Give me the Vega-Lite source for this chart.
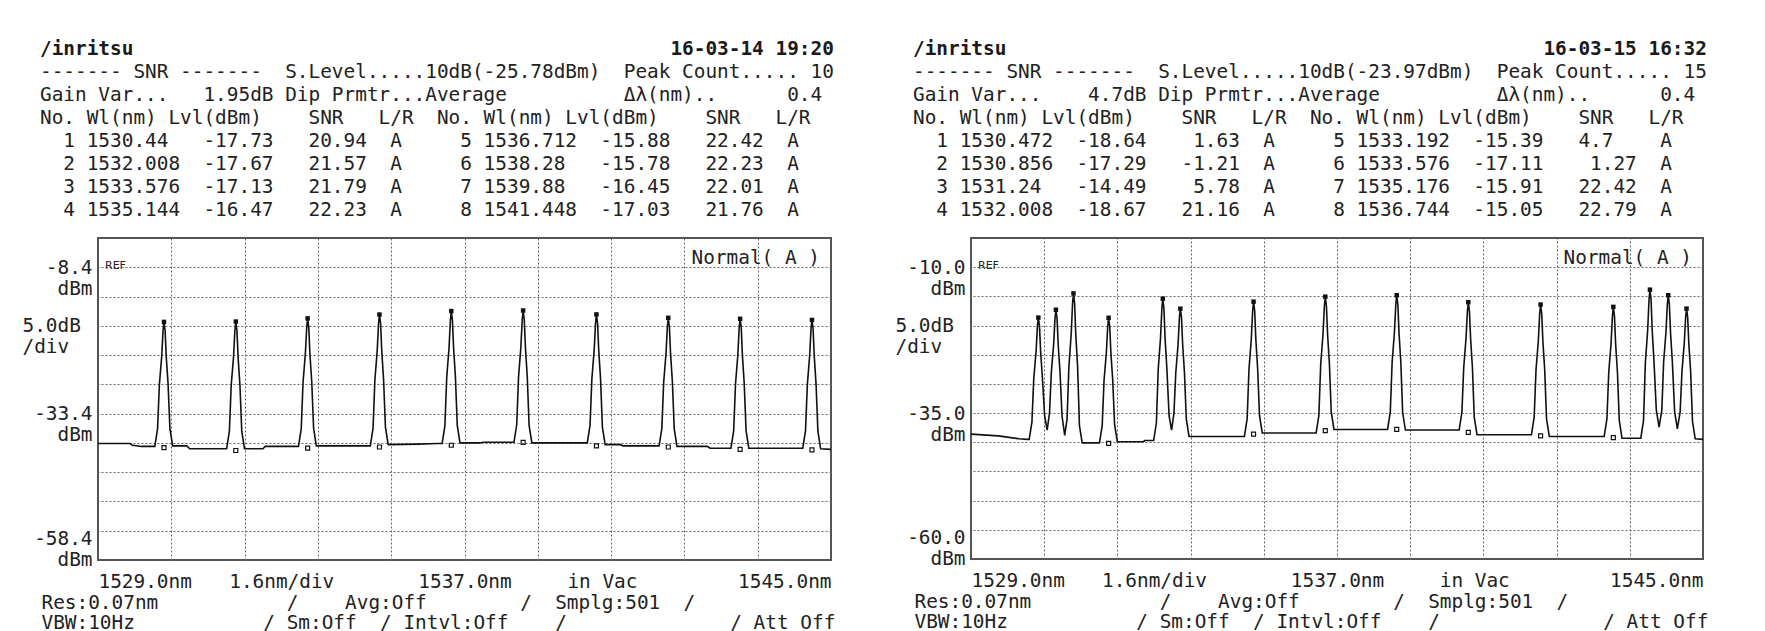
{
  "$schema": "https://vega.github.io/schema/vega-lite/v6.json",
  "background": "white",
  "padding": {"left": 20, "top": 37, "right": 5, "bottom": 0},
  "autosize": {"type": "pad"},
  "bounds": "flush",
  "spacing": 140,
  "config": {
    "view": {"stroke": "#555555", "strokeWidth": 2},
    "axis": {
      "domain": false, "ticks": false,
      "labelFont": "DejaVu Sans Mono", "labelFontSize": 19.4, "labelColor": "#222222",
      "titleFont": "DejaVu Sans Mono", "titleFontSize": 19.4, "titleFontWeight": "normal", "titleColor": "#222222",
      "gridColor": "#666666", "gridDash": [2, 2], "gridWidth": 1, "gridOpacity": 1
    },
    "title": {
      "anchor": "start", "frame": "group", "dx": -58, "offset": 18,
      "font": "DejaVu Sans Mono", "fontSize": 19.4, "fontWeight": "bold", "color": "#1a1a1a",
      "subtitleFont": "DejaVu Sans Mono", "subtitleFontSize": 19.4, "subtitleColor": "#222222",
      "subtitleLineHeight": 23, "subtitlePadding": 3.6
    }
  },
  "datasets": {
    "trace1": [
      {"wl":1529.0,"dbm":-38.5},{"wl":1529.7,"dbm":-38.5},{"wl":1529.75,"dbm":-38.8},{"wl":1529.95,"dbm":-39.0},
      {"wl":1530.24,"dbm":-39.0},{"wl":1530.30,"dbm":-36.0},{"wl":1530.34,"dbm":-28.4},{"wl":1530.39,"dbm":-23.7},{"wl":1530.42,"dbm":-19.2},{"wl":1530.44,"dbm":-17.73},{"wl":1530.465,"dbm":-19.2},{"wl":1530.49,"dbm":-23.7},{"wl":1530.53,"dbm":-28.4},{"wl":1530.57,"dbm":-36.0},{"wl":1530.63,"dbm":-38.9},
      {"wl":1530.94,"dbm":-38.9},{"wl":1531.0,"dbm":-39.4},
      {"wl":1531.808,"dbm":-39.4},{"wl":1531.868,"dbm":-36.4},{"wl":1531.908,"dbm":-28.5},{"wl":1531.958,"dbm":-23.8},{"wl":1531.988,"dbm":-19.2},{"wl":1532.008,"dbm":-17.67},{"wl":1532.033,"dbm":-19.2},{"wl":1532.058,"dbm":-23.8},{"wl":1532.098,"dbm":-28.5},{"wl":1532.138,"dbm":-36.4},{"wl":1532.198,"dbm":-39.4},
      {"wl":1532.6,"dbm":-39.4},{"wl":1532.65,"dbm":-39.0},
      {"wl":1533.376,"dbm":-39.0},{"wl":1533.436,"dbm":-36.0},{"wl":1533.476,"dbm":-28.0},{"wl":1533.526,"dbm":-23.2},{"wl":1533.556,"dbm":-18.7},{"wl":1533.576,"dbm":-17.13},{"wl":1533.601,"dbm":-18.7},{"wl":1533.626,"dbm":-23.2},{"wl":1533.666,"dbm":-28.0},{"wl":1533.706,"dbm":-35.9},{"wl":1533.766,"dbm":-38.9},
      {"wl":1534.9,"dbm":-38.9},
      {"wl":1534.944,"dbm":-38.9},{"wl":1535.004,"dbm":-35.9},{"wl":1535.044,"dbm":-27.6},{"wl":1535.094,"dbm":-22.7},{"wl":1535.124,"dbm":-18.0},{"wl":1535.144,"dbm":-16.47},{"wl":1535.169,"dbm":-18.0},{"wl":1535.194,"dbm":-22.7},{"wl":1535.234,"dbm":-27.6},{"wl":1535.274,"dbm":-35.7},{"wl":1535.334,"dbm":-38.7},
      {"wl":1536.0,"dbm":-38.6},{"wl":1536.4,"dbm":-38.5},
      {"wl":1536.512,"dbm":-38.5},{"wl":1536.572,"dbm":-35.5},{"wl":1536.612,"dbm":-27.2},{"wl":1536.662,"dbm":-22.2},{"wl":1536.692,"dbm":-17.5},{"wl":1536.712,"dbm":-15.88},{"wl":1536.737,"dbm":-17.5},{"wl":1536.762,"dbm":-22.2},{"wl":1536.802,"dbm":-27.2},{"wl":1536.842,"dbm":-35.4},{"wl":1536.902,"dbm":-38.4},
      {"wl":1537.34,"dbm":-38.4},{"wl":1537.4,"dbm":-38.3},{"wl":1538.0,"dbm":-38.3},
      {"wl":1538.08,"dbm":-38.3},{"wl":1538.14,"dbm":-35.3},{"wl":1538.18,"dbm":-27.1},{"wl":1538.23,"dbm":-22.1},{"wl":1538.26,"dbm":-17.4},{"wl":1538.28,"dbm":-15.78},{"wl":1538.305,"dbm":-17.4},{"wl":1538.33,"dbm":-22.1},{"wl":1538.37,"dbm":-27.1},{"wl":1538.41,"dbm":-35.4},{"wl":1538.47,"dbm":-38.4},
      {"wl":1539.6,"dbm":-38.4},
      {"wl":1539.68,"dbm":-38.4},{"wl":1539.74,"dbm":-35.4},{"wl":1539.78,"dbm":-27.5},{"wl":1539.83,"dbm":-22.6},{"wl":1539.86,"dbm":-18.0},{"wl":1539.88,"dbm":-16.45},{"wl":1539.905,"dbm":-18.0},{"wl":1539.93,"dbm":-22.6},{"wl":1539.97,"dbm":-27.5},{"wl":1540.01,"dbm":-35.7},{"wl":1540.07,"dbm":-38.7},
      {"wl":1540.4,"dbm":-38.7},{"wl":1540.46,"dbm":-38.9},{"wl":1541.2,"dbm":-38.9},
      {"wl":1541.248,"dbm":-38.9},{"wl":1541.308,"dbm":-35.9},{"wl":1541.348,"dbm":-28.0},{"wl":1541.398,"dbm":-23.2},{"wl":1541.428,"dbm":-18.6},{"wl":1541.448,"dbm":-17.03},{"wl":1541.473,"dbm":-18.6},{"wl":1541.498,"dbm":-23.2},{"wl":1541.538,"dbm":-28.0},{"wl":1541.578,"dbm":-36.0},{"wl":1541.638,"dbm":-39.0},
      {"wl":1542.3,"dbm":-39.0},{"wl":1542.36,"dbm":-39.3},
      {"wl":1542.816,"dbm":-39.3},{"wl":1542.876,"dbm":-36.3},{"wl":1542.916,"dbm":-28.3},{"wl":1542.966,"dbm":-23.4},{"wl":1542.996,"dbm":-18.7},{"wl":1543.016,"dbm":-17.2},{"wl":1543.041,"dbm":-18.7},{"wl":1543.066,"dbm":-23.4},{"wl":1543.106,"dbm":-28.3},{"wl":1543.146,"dbm":-36.3},{"wl":1543.206,"dbm":-39.3},
      {"wl":1544.3,"dbm":-39.3},
      {"wl":1544.384,"dbm":-39.3},{"wl":1544.444,"dbm":-36.3},{"wl":1544.484,"dbm":-28.4},{"wl":1544.534,"dbm":-23.5},{"wl":1544.564,"dbm":-18.9},{"wl":1544.584,"dbm":-17.4},{"wl":1544.609,"dbm":-18.9},{"wl":1544.634,"dbm":-23.5},{"wl":1544.674,"dbm":-28.4},{"wl":1544.714,"dbm":-36.4},{"wl":1544.774,"dbm":-39.4},
      {"wl":1545.0,"dbm":-39.5}
    ],
    "peaks1": [
      {"wl":1530.44,"dbm":-17.73},{"wl":1532.008,"dbm":-17.67},{"wl":1533.576,"dbm":-17.13},{"wl":1535.144,"dbm":-16.47},{"wl":1536.712,"dbm":-15.88},
      {"wl":1538.28,"dbm":-15.78},{"wl":1539.88,"dbm":-16.45},{"wl":1541.448,"dbm":-17.03},{"wl":1543.016,"dbm":-17.2},{"wl":1544.584,"dbm":-17.4}
    ],
    "noise1": [
      {"wl":1530.44,"dbm":-39.2},{"wl":1532.008,"dbm":-39.7},{"wl":1533.576,"dbm":-39.3},{"wl":1535.144,"dbm":-39.1},{"wl":1536.712,"dbm":-38.8},
      {"wl":1538.28,"dbm":-38.3},{"wl":1539.88,"dbm":-38.9},{"wl":1541.448,"dbm":-39.1},{"wl":1543.016,"dbm":-39.5},{"wl":1544.584,"dbm":-39.6}
    ],
    "trace2": [
      {"wl":1529.0,"dbm":-38.6},{"wl":1529.6,"dbm":-38.9},{"wl":1530.05,"dbm":-39.4},{"wl":1530.22,"dbm":-39.5},
      {"wl":1530.272,"dbm":-39.5},{"wl":1530.332,"dbm":-36.5},{"wl":1530.372,"dbm":-29.1},{"wl":1530.422,"dbm":-24.5},{"wl":1530.452,"dbm":-20.1},{"wl":1530.472,"dbm":-18.64},{"wl":1530.497,"dbm":-20.1},{"wl":1530.522,"dbm":-24.5},{"wl":1530.562,"dbm":-29.1},{"wl":1530.61,"dbm":-35.5},{"wl":1530.664,"dbm":-37.9},
      {"wl":1530.716,"dbm":-35.0},{"wl":1530.756,"dbm":-28.0},{"wl":1530.806,"dbm":-23.3},{"wl":1530.836,"dbm":-18.8},{"wl":1530.856,"dbm":-17.29},{"wl":1530.881,"dbm":-18.8},{"wl":1530.906,"dbm":-23.3},{"wl":1530.946,"dbm":-28.0},{"wl":1530.99,"dbm":-35.5},{"wl":1531.048,"dbm":-38.8},
      {"wl":1531.10,"dbm":-36.0},{"wl":1531.14,"dbm":-27.0},{"wl":1531.19,"dbm":-21.5},{"wl":1531.22,"dbm":-16.2},{"wl":1531.24,"dbm":-14.49},{"wl":1531.265,"dbm":-16.2},{"wl":1531.29,"dbm":-21.5},{"wl":1531.33,"dbm":-27.0},{"wl":1531.37,"dbm":-37.1},{"wl":1531.43,"dbm":-40.1},
      {"wl":1531.808,"dbm":-40.1},
      {"wl":1531.868,"dbm":-37.1},{"wl":1531.908,"dbm":-29.4},{"wl":1531.958,"dbm":-24.7},{"wl":1531.988,"dbm":-20.2},{"wl":1532.008,"dbm":-18.67},{"wl":1532.033,"dbm":-20.2},{"wl":1532.058,"dbm":-24.7},{"wl":1532.098,"dbm":-29.4},{"wl":1532.138,"dbm":-36.9},{"wl":1532.198,"dbm":-39.9},
      {"wl":1532.77,"dbm":-39.9},{"wl":1532.8,"dbm":-39.7},
      {"wl":1532.992,"dbm":-39.7},{"wl":1533.052,"dbm":-36.7},{"wl":1533.092,"dbm":-27.5},{"wl":1533.142,"dbm":-22.2},{"wl":1533.172,"dbm":-17.1},{"wl":1533.192,"dbm":-15.39},{"wl":1533.217,"dbm":-17.1},{"wl":1533.242,"dbm":-22.2},{"wl":1533.282,"dbm":-27.5},{"wl":1533.33,"dbm":-35.5},{"wl":1533.384,"dbm":-37.9},
      {"wl":1533.436,"dbm":-35.0},{"wl":1533.476,"dbm":-28.1},{"wl":1533.526,"dbm":-23.2},{"wl":1533.556,"dbm":-18.6},{"wl":1533.576,"dbm":-17.11},{"wl":1533.601,"dbm":-18.6},{"wl":1533.626,"dbm":-23.2},{"wl":1533.666,"dbm":-28.1},{"wl":1533.706,"dbm":-36.0},{"wl":1533.766,"dbm":-39.0},
      {"wl":1534.976,"dbm":-39.0},
      {"wl":1535.036,"dbm":-36.0},{"wl":1535.076,"dbm":-27.5},{"wl":1535.126,"dbm":-22.4},{"wl":1535.156,"dbm":-17.5},{"wl":1535.176,"dbm":-15.91},{"wl":1535.201,"dbm":-17.5},{"wl":1535.226,"dbm":-22.4},{"wl":1535.266,"dbm":-27.5},{"wl":1535.306,"dbm":-35.4},{"wl":1535.366,"dbm":-38.4},
      {"wl":1536.544,"dbm":-38.4},
      {"wl":1536.604,"dbm":-35.4},{"wl":1536.644,"dbm":-26.6},{"wl":1536.694,"dbm":-21.5},{"wl":1536.724,"dbm":-16.7},{"wl":1536.744,"dbm":-15.05},{"wl":1536.769,"dbm":-16.7},{"wl":1536.794,"dbm":-21.5},{"wl":1536.834,"dbm":-26.6},{"wl":1536.874,"dbm":-34.8},{"wl":1536.934,"dbm":-37.8},
      {"wl":1538.105,"dbm":-37.8},
      {"wl":1538.165,"dbm":-34.8},{"wl":1538.205,"dbm":-26.3},{"wl":1538.255,"dbm":-21.2},{"wl":1538.285,"dbm":-16.4},{"wl":1538.305,"dbm":-14.8},{"wl":1538.33,"dbm":-16.4},{"wl":1538.355,"dbm":-21.2},{"wl":1538.395,"dbm":-26.3},{"wl":1538.435,"dbm":-34.9},{"wl":1538.495,"dbm":-37.9},
      {"wl":1539.67,"dbm":-37.9},
      {"wl":1539.73,"dbm":-34.9},{"wl":1539.77,"dbm":-27.2},{"wl":1539.82,"dbm":-22.2},{"wl":1539.85,"dbm":-17.6},{"wl":1539.87,"dbm":-16.0},{"wl":1539.895,"dbm":-17.6},{"wl":1539.92,"dbm":-22.2},{"wl":1539.96,"dbm":-27.2},{"wl":1540.0,"dbm":-35.7},{"wl":1540.06,"dbm":-38.7},
      {"wl":1541.25,"dbm":-38.7},
      {"wl":1541.31,"dbm":-35.7},{"wl":1541.35,"dbm":-27.6},{"wl":1541.40,"dbm":-22.7},{"wl":1541.43,"dbm":-18.0},{"wl":1541.45,"dbm":-16.4},{"wl":1541.475,"dbm":-18.0},{"wl":1541.50,"dbm":-22.7},{"wl":1541.54,"dbm":-27.6},{"wl":1541.58,"dbm":-36.0},{"wl":1541.64,"dbm":-39.0},
      {"wl":1542.84,"dbm":-39.0},
      {"wl":1542.90,"dbm":-36.0},{"wl":1542.94,"dbm":-28.0},{"wl":1542.99,"dbm":-23.1},{"wl":1543.02,"dbm":-18.4},{"wl":1543.04,"dbm":-16.8},{"wl":1543.065,"dbm":-18.4},{"wl":1543.09,"dbm":-23.1},{"wl":1543.13,"dbm":-28.0},{"wl":1543.17,"dbm":-36.3},{"wl":1543.23,"dbm":-39.3},
      {"wl":1543.64,"dbm":-39.3},
      {"wl":1543.70,"dbm":-36.3},{"wl":1543.74,"dbm":-26.4},{"wl":1543.79,"dbm":-20.9},{"wl":1543.82,"dbm":-15.6},{"wl":1543.84,"dbm":-13.85},{"wl":1543.865,"dbm":-15.6},{"wl":1543.89,"dbm":-20.9},{"wl":1543.93,"dbm":-26.4},{"wl":1543.98,"dbm":-34.5},{"wl":1544.04,"dbm":-37.4},
      {"wl":1544.10,"dbm":-34.5},{"wl":1544.14,"dbm":-26.2},{"wl":1544.19,"dbm":-21.2},{"wl":1544.22,"dbm":-16.4},{"wl":1544.24,"dbm":-14.8},{"wl":1544.265,"dbm":-16.4},{"wl":1544.29,"dbm":-21.2},{"wl":1544.33,"dbm":-26.2},{"wl":1544.38,"dbm":-34.8},{"wl":1544.44,"dbm":-37.7},
      {"wl":1544.50,"dbm":-34.8},{"wl":1544.54,"dbm":-27.9},{"wl":1544.59,"dbm":-23.1},{"wl":1544.62,"dbm":-18.6},{"wl":1544.64,"dbm":-17.1},{"wl":1544.665,"dbm":-18.6},{"wl":1544.69,"dbm":-23.1},{"wl":1544.73,"dbm":-27.9},{"wl":1544.77,"dbm":-36.4},{"wl":1544.83,"dbm":-39.4},
      {"wl":1545.0,"dbm":-39.5}
    ],
    "peaks2": [
      {"wl":1530.472,"dbm":-18.64},{"wl":1530.856,"dbm":-17.29},{"wl":1531.24,"dbm":-14.49},{"wl":1532.008,"dbm":-18.67},{"wl":1533.192,"dbm":-15.39},
      {"wl":1533.576,"dbm":-17.11},{"wl":1535.176,"dbm":-15.91},{"wl":1536.744,"dbm":-15.05},{"wl":1538.305,"dbm":-14.8},{"wl":1539.87,"dbm":-16.0},
      {"wl":1541.45,"dbm":-16.4},{"wl":1543.04,"dbm":-16.8},{"wl":1543.84,"dbm":-13.85},{"wl":1544.24,"dbm":-14.8},{"wl":1544.64,"dbm":-17.1}
    ],
    "noise2": [
      {"wl":1532.008,"dbm":-40.2},{"wl":1535.176,"dbm":-38.6},{"wl":1536.744,"dbm":-38.0},{"wl":1538.305,"dbm":-37.8},
      {"wl":1539.87,"dbm":-38.3},{"wl":1541.45,"dbm":-38.9},{"wl":1543.04,"dbm":-39.2}
    ]
  },
  "hconcat": [
    {
      "width": 733,
      "height": 322,
      "title": {
        "text": "/inritsu\u00a0\u00a0\u00a0\u00a0\u00a0\u00a0\u00a0\u00a0\u00a0\u00a0\u00a0\u00a0\u00a0\u00a0\u00a0\u00a0\u00a0\u00a0\u00a0\u00a0\u00a0\u00a0\u00a0\u00a0\u00a0\u00a0\u00a0\u00a0\u00a0\u00a0\u00a0\u00a0\u00a0\u00a0\u00a0\u00a0\u00a0\u00a0\u00a0\u00a0\u00a0\u00a0\u00a0\u00a0\u00a0\u00a016-03-14\u00a019:20",
        "subtitle": [
          "-------\u00a0SNR\u00a0-------\u00a0\u00a0S.Level.....10dB(-25.78dBm)\u00a0\u00a0Peak\u00a0Count.....\u00a010",
          "Gain\u00a0Var...\u00a0\u00a0\u00a01.95dB\u00a0Dip\u00a0Prmtr...Average\u00a0\u00a0\u00a0\u00a0\u00a0\u00a0\u00a0\u00a0\u00a0\u00a0\u0394\u03bb(nm)..\u00a0\u00a0\u00a0\u00a0\u00a0\u00a00.4",
          "No.\u00a0Wl(nm)\u00a0Lvl(dBm)\u00a0\u00a0\u00a0\u00a0SNR\u00a0\u00a0\u00a0L/R\u00a0\u00a0No.\u00a0Wl(nm)\u00a0Lvl(dBm)\u00a0\u00a0\u00a0\u00a0SNR\u00a0\u00a0\u00a0L/R",
          "\u200b\u00a0\u00a01\u00a01530.44\u00a0\u00a0\u00a0-17.73\u00a0\u00a0\u00a020.94\u00a0\u00a0A\u00a0\u00a0\u00a0\u00a0\u00a05\u00a01536.712\u00a0\u00a0-15.88\u00a0\u00a0\u00a022.42\u00a0\u00a0A",
          "\u200b\u00a0\u00a02\u00a01532.008\u00a0\u00a0-17.67\u00a0\u00a0\u00a021.57\u00a0\u00a0A\u00a0\u00a0\u00a0\u00a0\u00a06\u00a01538.28\u00a0\u00a0\u00a0-15.78\u00a0\u00a0\u00a022.23\u00a0\u00a0A",
          "\u200b\u00a0\u00a03\u00a01533.576\u00a0\u00a0-17.13\u00a0\u00a0\u00a021.79\u00a0\u00a0A\u00a0\u00a0\u00a0\u00a0\u00a07\u00a01539.88\u00a0\u00a0\u00a0-16.45\u00a0\u00a0\u00a022.01\u00a0\u00a0A",
          "\u200b\u00a0\u00a04\u00a01535.144\u00a0\u00a0-16.47\u00a0\u00a0\u00a022.23\u00a0\u00a0A\u00a0\u00a0\u00a0\u00a0\u00a08\u00a01541.448\u00a0\u00a0-17.03\u00a0\u00a0\u00a021.76\u00a0\u00a0A"
        ]
      },
      "resolve": {"axis": {"x": "independent", "y": "independent"}},
      "layer": [
        {
          "data": {"name": "trace1"},
          "mark": {"type": "line", "color": "#111111", "strokeWidth": 1.6},
          "encoding": {
            "x": {"field": "wl", "type": "quantitative", "scale": {"domain": [1529, 1545], "nice": false, "zero": false},
                  "axis": {"orient": "top", "grid": true, "labels": false, "title": null, "values": [1530.6, 1532.2, 1533.8, 1535.4, 1537, 1538.6, 1540.2, 1541.8, 1543.4]}},
            "y": {"field": "dbm", "type": "quantitative", "scale": {"domain": [-58.4, -3.4], "nice": false, "zero": false},
                  "axis": {"orient": "right", "grid": true, "labels": false, "title": null, "values": [-8.4, -13.4, -18.4, -23.4, -28.4, -33.4, -38.4, -43.4, -48.4, -53.4]}}
          }
        },
        {
          "data": {"name": "peaks1"},
          "mark": {"type": "square", "size": 20, "color": "#111111", "filled": true, "opacity": 1},
          "encoding": {
            "x": {"field": "wl", "type": "quantitative", "scale": {"domain": [1529, 1545], "nice": false, "zero": false},
                  "axis": {"orient": "bottom", "grid": false, "values": [1529, 1533, 1537, 1540, 1545],
                           "labelExpr": "datum.value < 1530 ? '1529.0nm' : datum.value < 1535 ? '1.6nm/div' : datum.value < 1538 ? '1537.0nm' : datum.value < 1542 ? 'in Vac' : '1545.0nm'",
                           "labelFlush": true, "labelOverlap": false, "labelBaseline": "top", "labelPadding": 12,
                           "title": ["Res:0.07nm\u00a0\u00a0\u00a0\u00a0\u00a0\u00a0\u00a0\u00a0\u00a0\u00a0\u00a0/\u00a0\u00a0\u00a0\u00a0Avg:Off\u00a0\u00a0\u00a0\u00a0\u00a0\u00a0\u00a0\u00a0/\u00a0\u00a0Smplg:501\u00a0\u00a0/",
                                     "VBW:10Hz\u00a0\u00a0\u00a0\u00a0\u00a0\u00a0\u00a0\u00a0\u00a0\u00a0\u00a0/\u00a0Sm:Off\u00a0\u00a0/\u00a0Intvl:Off\u00a0\u00a0\u00a0\u00a0/\u00a0\u00a0\u00a0\u00a0\u00a0\u00a0\u00a0\u00a0\u00a0\u00a0\u00a0\u00a0\u00a0\u00a0/\u00a0Att\u00a0Off"],
                           "titleX": -57, "titleY": 33, "titleAlign": "left", "titleBaseline": "top", "titleLineHeight": 20}},
            "y": {"field": "dbm", "type": "quantitative", "scale": {"domain": [-58.4, -3.4], "nice": false, "zero": false},
                  "axis": {"orient": "left", "grid": false, "title": null, "values": [-8.4, -18.4, -33.4, -58.4],
                           "labelExpr": "datum.value > -10 ? ['-8.4', 'dBm'] : datum.value > -20 ? ['5.0dB\u00a0\u200b', '/div\u00a0\u00a0\u200b'] : datum.value > -40 ? ['-33.4', 'dBm'] : ['-58.4', 'dBm']",
                           "labelAlign": "right", "labelBaseline": "middle", "labelPadding": 6, "labelLineHeight": 21, "labelOverlap": false,
                           "labelOffset": {"condition": {"test": "datum.value < -50", "value": -22}, "value": 0}}}
          }
        },
        {
          "data": {"name": "noise1"},
          "mark": {"type": "square", "size": 16, "filled": false, "color": "#111111", "strokeWidth": 1.2, "opacity": 1},
          "encoding": {
            "x": {"field": "wl", "type": "quantitative", "scale": {"domain": [1529, 1545], "nice": false, "zero": false}, "axis": null},
            "y": {"field": "dbm", "type": "quantitative", "scale": {"domain": [-58.4, -3.4], "nice": false, "zero": false}, "axis": null}
          }
        },
        {
          "data": {"values": [{"label": "REF"}]},
          "mark": {"type": "text", "align": "left", "baseline": "middle", "dx": 7, "dy": -1, "font": "DejaVu Sans", "fontSize": 11, "color": "#222222"},
          "encoding": {
            "x": {"datum": 1529, "type": "quantitative", "scale": {"domain": [1529, 1545], "nice": false, "zero": false}, "axis": null},
            "y": {"datum": -8.4, "type": "quantitative", "scale": {"domain": [-58.4, -3.4], "nice": false, "zero": false}, "axis": null},
            "text": {"field": "label"}
          }
        },
        {
          "data": {"values": [{"label": "Normal( A )"}]},
          "mark": {"type": "text", "align": "right", "baseline": "top", "dx": -11, "dy": 11, "font": "DejaVu Sans Mono", "fontSize": 19.4, "color": "#222222"},
          "encoding": {
            "x": {"datum": 1545, "type": "quantitative", "scale": {"domain": [1529, 1545], "nice": false, "zero": false}, "axis": null},
            "y": {"datum": -3.4, "type": "quantitative", "scale": {"domain": [-58.4, -3.4], "nice": false, "zero": false}, "axis": null},
            "text": {"field": "label"}
          }
        }
      ]
    },
    {
      "width": 732,
      "height": 321,
      "title": {
        "text": "/inritsu\u00a0\u00a0\u00a0\u00a0\u00a0\u00a0\u00a0\u00a0\u00a0\u00a0\u00a0\u00a0\u00a0\u00a0\u00a0\u00a0\u00a0\u00a0\u00a0\u00a0\u00a0\u00a0\u00a0\u00a0\u00a0\u00a0\u00a0\u00a0\u00a0\u00a0\u00a0\u00a0\u00a0\u00a0\u00a0\u00a0\u00a0\u00a0\u00a0\u00a0\u00a0\u00a0\u00a0\u00a0\u00a0\u00a016-03-15\u00a016:32",
        "subtitle": [
          "-------\u00a0SNR\u00a0-------\u00a0\u00a0S.Level.....10dB(-23.97dBm)\u00a0\u00a0Peak\u00a0Count.....\u00a015",
          "Gain\u00a0Var...\u00a0\u00a0\u00a0\u00a04.7dB\u00a0Dip\u00a0Prmtr...Average\u00a0\u00a0\u00a0\u00a0\u00a0\u00a0\u00a0\u00a0\u00a0\u00a0\u0394\u03bb(nm)..\u00a0\u00a0\u00a0\u00a0\u00a0\u00a00.4",
          "No.\u00a0Wl(nm)\u00a0Lvl(dBm)\u00a0\u00a0\u00a0\u00a0SNR\u00a0\u00a0\u00a0L/R\u00a0\u00a0No.\u00a0Wl(nm)\u00a0Lvl(dBm)\u00a0\u00a0\u00a0\u00a0SNR\u00a0\u00a0\u00a0L/R",
          "\u200b\u00a0\u00a01\u00a01530.472\u00a0\u00a0-18.64\u00a0\u00a0\u00a0\u00a01.63\u00a0\u00a0A\u00a0\u00a0\u00a0\u00a0\u00a05\u00a01533.192\u00a0\u00a0-15.39\u00a0\u00a0\u00a04.7\u00a0\u00a0\u00a0\u00a0A",
          "\u200b\u00a0\u00a02\u00a01530.856\u00a0\u00a0-17.29\u00a0\u00a0\u00a0-1.21\u00a0\u00a0A\u00a0\u00a0\u00a0\u00a0\u00a06\u00a01533.576\u00a0\u00a0-17.11\u00a0\u00a0\u00a0\u00a01.27\u00a0\u00a0A",
          "\u200b\u00a0\u00a03\u00a01531.24\u00a0\u00a0\u00a0-14.49\u00a0\u00a0\u00a0\u00a05.78\u00a0\u00a0A\u00a0\u00a0\u00a0\u00a0\u00a07\u00a01535.176\u00a0\u00a0-15.91\u00a0\u00a0\u00a022.42\u00a0\u00a0A",
          "\u200b\u00a0\u00a04\u00a01532.008\u00a0\u00a0-18.67\u00a0\u00a0\u00a021.16\u00a0\u00a0A\u00a0\u00a0\u00a0\u00a0\u00a08\u00a01536.744\u00a0\u00a0-15.05\u00a0\u00a0\u00a022.79\u00a0\u00a0A"
        ]
      },
      "resolve": {"axis": {"x": "independent", "y": "independent"}},
      "layer": [
        {
          "data": {"name": "trace2"},
          "mark": {"type": "line", "color": "#111111", "strokeWidth": 1.6},
          "encoding": {
            "x": {"field": "wl", "type": "quantitative", "scale": {"domain": [1529, 1545], "nice": false, "zero": false},
                  "axis": {"orient": "top", "grid": true, "labels": false, "title": null, "values": [1530.6, 1532.2, 1533.8, 1535.4, 1537, 1538.6, 1540.2, 1541.8, 1543.4]}},
            "y": {"field": "dbm", "type": "quantitative", "scale": {"domain": [-60, -5], "nice": false, "zero": false},
                  "axis": {"orient": "right", "grid": true, "labels": false, "title": null, "values": [-10, -15, -20, -25, -30, -35, -40, -45, -50, -55]}}
          }
        },
        {
          "data": {"name": "peaks2"},
          "mark": {"type": "square", "size": 20, "color": "#111111", "filled": true, "opacity": 1},
          "encoding": {
            "x": {"field": "wl", "type": "quantitative", "scale": {"domain": [1529, 1545], "nice": false, "zero": false},
                  "axis": {"orient": "bottom", "grid": false, "values": [1529, 1533, 1537, 1540, 1545],
                           "labelExpr": "datum.value < 1530 ? '1529.0nm' : datum.value < 1535 ? '1.6nm/div' : datum.value < 1538 ? '1537.0nm' : datum.value < 1542 ? 'in Vac' : '1545.0nm'",
                           "labelFlush": true, "labelOverlap": false, "labelBaseline": "top", "labelPadding": 12,
                           "title": ["Res:0.07nm\u00a0\u00a0\u00a0\u00a0\u00a0\u00a0\u00a0\u00a0\u00a0\u00a0\u00a0/\u00a0\u00a0\u00a0\u00a0Avg:Off\u00a0\u00a0\u00a0\u00a0\u00a0\u00a0\u00a0\u00a0/\u00a0\u00a0Smplg:501\u00a0\u00a0/",
                                     "VBW:10Hz\u00a0\u00a0\u00a0\u00a0\u00a0\u00a0\u00a0\u00a0\u00a0\u00a0\u00a0/\u00a0Sm:Off\u00a0\u00a0/\u00a0Intvl:Off\u00a0\u00a0\u00a0\u00a0/\u00a0\u00a0\u00a0\u00a0\u00a0\u00a0\u00a0\u00a0\u00a0\u00a0\u00a0\u00a0\u00a0\u00a0/\u00a0Att\u00a0Off"],
                           "titleX": -57, "titleY": 33, "titleAlign": "left", "titleBaseline": "top", "titleLineHeight": 20}},
            "y": {"field": "dbm", "type": "quantitative", "scale": {"domain": [-60, -5], "nice": false, "zero": false},
                  "axis": {"orient": "left", "grid": false, "title": null, "values": [-10, -20, -35, -60],
                           "labelExpr": "datum.value > -15 ? ['-10.0', 'dBm'] : datum.value > -25 ? ['5.0dB\u00a0\u200b', '/div\u00a0\u00a0\u200b'] : datum.value > -40 ? ['-35.0', 'dBm'] : ['-60.0', 'dBm']",
                           "labelAlign": "right", "labelBaseline": "middle", "labelPadding": 6, "labelLineHeight": 21, "labelOverlap": false,
                           "labelOffset": {"condition": {"test": "datum.value < -50", "value": -22}, "value": 0}}}
          }
        },
        {
          "data": {"name": "noise2"},
          "mark": {"type": "square", "size": 16, "filled": false, "color": "#111111", "strokeWidth": 1.2, "opacity": 1},
          "encoding": {
            "x": {"field": "wl", "type": "quantitative", "scale": {"domain": [1529, 1545], "nice": false, "zero": false}, "axis": null},
            "y": {"field": "dbm", "type": "quantitative", "scale": {"domain": [-60, -5], "nice": false, "zero": false}, "axis": null}
          }
        },
        {
          "data": {"values": [{"label": "REF"}]},
          "mark": {"type": "text", "align": "left", "baseline": "middle", "dx": 7, "dy": -1, "font": "DejaVu Sans", "fontSize": 11, "color": "#222222"},
          "encoding": {
            "x": {"datum": 1529, "type": "quantitative", "scale": {"domain": [1529, 1545], "nice": false, "zero": false}, "axis": null},
            "y": {"datum": -10, "type": "quantitative", "scale": {"domain": [-60, -5], "nice": false, "zero": false}, "axis": null},
            "text": {"field": "label"}
          }
        },
        {
          "data": {"values": [{"label": "Normal( A )"}]},
          "mark": {"type": "text", "align": "right", "baseline": "top", "dx": -11, "dy": 11, "font": "DejaVu Sans Mono", "fontSize": 19.4, "color": "#222222"},
          "encoding": {
            "x": {"datum": 1545, "type": "quantitative", "scale": {"domain": [1529, 1545], "nice": false, "zero": false}, "axis": null},
            "y": {"datum": -5, "type": "quantitative", "scale": {"domain": [-60, -5], "nice": false, "zero": false}, "axis": null},
            "text": {"field": "label"}
          }
        }
      ]
    }
  ]
}
